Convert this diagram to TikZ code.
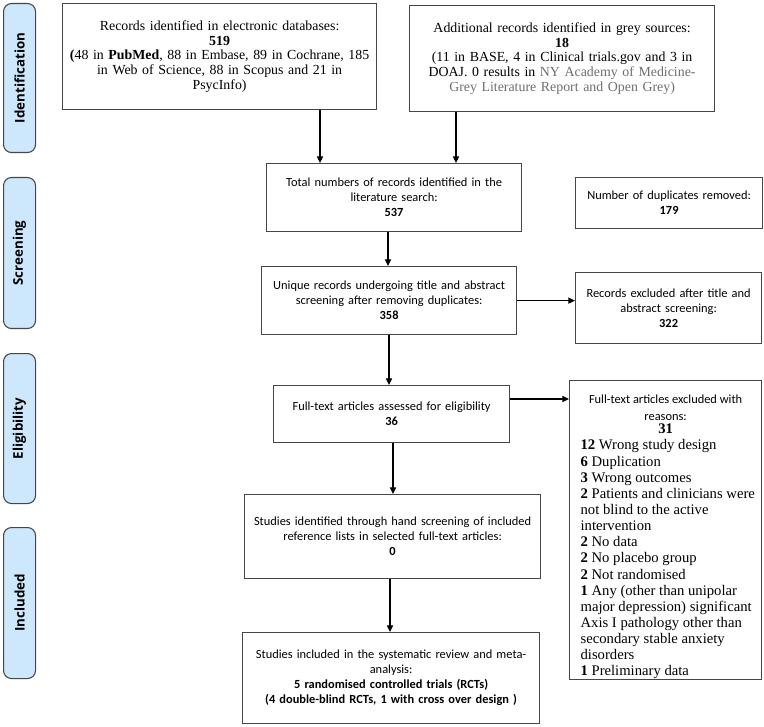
\documentclass[tikz,border=0pt]{standalone}
\usepackage{fontspec}
\setmainfont{Liberation Serif}
\newfontfamily\calfont{Carlito}
\newfontfamily\tabfont{Open Sans}
\usetikzlibrary{arrows.meta}
\definecolor{tabblue}{RGB}{205,232,252}
\definecolor{boxgray}{RGB}{70,70,70}
\definecolor{greytext}{RGB}{110,110,110}
\tikzset{
  box/.style={draw=boxgray, line width=0.9pt, rectangle, inner sep=0pt, anchor=north west, align=center},
  sbox/.style={box, font=\calfont\fontsize{9.3}{11.25}\selectfont},
  rbox/.style={box, font=\fontsize{10.4}{10.9}\selectfont},
  tabbox/.style={draw=boxgray, line width=0.8pt, fill=tabblue, rounded corners=6pt, inner sep=0pt, anchor=north west, minimum width=24pt},
  tablabel/.style={rotate=90, font=\tabfont\bfseries\fontsize{10}{12}\selectfont, inner sep=0pt},
  arr/.style={draw=black, line width=0.8pt, -{Triangle[length=5pt,width=4.6pt]}}
}
\begin{document}
\begin{tikzpicture}[x=0.75pt,y=-0.75pt]
\useasboundingbox (0,0) rectangle (764,727);
% side tabs
\node[tabbox, minimum height=111.75pt] (t1) at (3,3) {};
\node[tablabel] (t1l) at (t1.center) {Identification};
\node[tabbox, minimum height=113.25pt] (t2) at (3,177) {};
\node[tablabel] (t2l) at (t2.center) {Screening};
\node[tabbox, minimum height=112.5pt] (t3) at (3,353) {};
\node[tablabel] (t3l) at (t3.center) {Eligibility};
\node[tabbox, minimum height=113.25pt] (t4) at (3,527) {};
\node[tablabel] (t4l) at (t4.center) {Included};
% boxes
\node[rbox, minimum width=235.5pt, minimum height=79.5pt, text width=225pt] (b1) at (62,3)
 {Records identified in electronic databases:\\ \textbf{519}\\ \textbf{(}48 in \textbf{PubMed}, 88 in Embase, 89 in Cochrane, 185\\ in Web of Science, 88 in Scopus and 21 in\\ PsycInfo)};
\node[rbox, minimum width=228.75pt, minimum height=79.5pt, text width=220pt] (b2) at (409,5)
 {Additional records identified in grey sources:\\ \textbf{18}\\ (11 in BASE, 4 in Clinical trials.gov and 3 in\\ DOAJ. 0 results in \textcolor{greytext}{NY Academy of Medicine-}\\ \textcolor{greytext}{Grey Literature Report and Open Grey)}};
\node[sbox, minimum width=191.25pt, minimum height=51pt, text width=185pt] (b3) at (266,163)
 {Total numbers of records identified in the\\ literature search:\\ \textbf{537}};
\node[sbox, minimum width=140.25pt, minimum height=38.25pt, text width=135pt] (dup) at (575,177)
 {Number of duplicates removed:\\ \textbf{179}};
\node[sbox, minimum width=191.25pt, minimum height=51pt, text width=187pt] (b4) at (261,266)
 {Unique records undergoing title and abstract\\ screening after removing duplicates:\\ \textbf{358}};
\node[sbox, minimum width=139.5pt, minimum height=53.25pt, text width=135pt] (ex1) at (575,272)
 {Records excluded after title and\\ abstract screening:\\ \textbf{322}};
\node[sbox, minimum width=177pt, minimum height=42.75pt, text width=172pt] (b5) at (273,385)
 {Full-text articles assessed for eligibility\\ \textbf{36}};
\node[sbox, minimum width=222pt, minimum height=63pt, text width=216pt] (b6) at (244,494)
 {Studies identified through hand screening of included\\ reference lists in selected full-text articles:\\ \textbf{0}};
\node[sbox, minimum width=222.75pt, minimum height=68.25pt, text width=216pt] (b7) at (242,632)
 {Studies included in the systematic review and meta-\\ analysis:\\ \textbf{5 randomised controlled trials (RCTs)}\\ \textbf{(4 double-blind RCTs, 1 with cross over design )}};
\node[box, align=left, minimum width=144pt, minimum height=224.25pt] (ex2) at (569,380)
 {\parbox[c][224.25pt][t]{144pt}{\vspace*{10.5pt}%
  {\centering\calfont\fontsize{9.3}{12.75}\selectfont Full-text articles excluded with\\ reasons:\par}%
  {\centering\fontsize{11}{10.2}\selectfont\textbf{31}\par}%
  {\raggedright\leftskip=8.25pt\fontsize{11}{12.1}\selectfont
  \textbf{12} Wrong study design\\
  \textbf{6} Duplication\\
  \textbf{3} Wrong outcomes\\
  \textbf{2} Patients and clinicians were\\
  not blind to the active\\
  intervention\\
  \textbf{2} No data\\
  \textbf{2} No placebo group\\
  \textbf{2} Not randomised\\
  \textbf{1} Any (other than unipolar\\
  major depression) significant\\
  Axis I pathology other than\\
  secondary stable anxiety\\
  disorders\\
  \textbf{1} Preliminary data\par}}};
% guide coordinates
\coordinate (x320) at (320,0);
\coordinate (x456) at (456,0);
\coordinate (x388) at (388,0);
\coordinate (x389) at (389,0);
\coordinate (x393) at (393,0);
\coordinate (x390) at (390,0);
\coordinate (y399) at (0,399);
% connectors
\draw[arr] (b1.south -| x320) -- (b3.north -| x320);
\draw[arr] (b2.south -| x456) -- (b3.north -| x456);
\draw[arr] (b3.south -| x388) -- (b4.north -| x388);
\draw[arr] (b4.south -| x389) -- (b5.north -| x389);
\draw[arr] (b5.south -| x393) -- (b6.north -| x393);
\draw[arr] (b6.south -| x390) -- (b7.north -| x390);
\draw[arr] (b4.east) -- (ex1.west |- b4.east);
\draw[arr] (b5.east |- y399) -- (ex2.west |- y399);
\end{tikzpicture}
\end{document}
